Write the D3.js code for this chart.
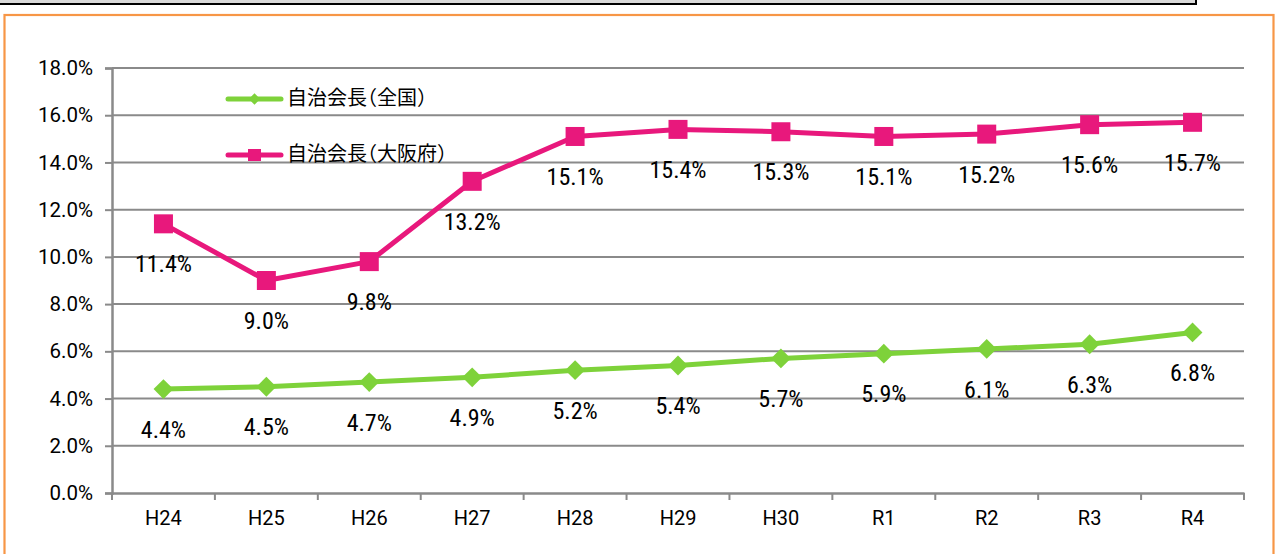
<!DOCTYPE html>
<html><head><meta charset="utf-8">
<script src="https://cdn.jsdelivr.net/npm/d3@7"></script>
<style>
html,body{margin:0;padding:0;background:#fff;overflow:hidden}
svg{display:block}
</style></head>
<body>
<svg id="c" width="1279" height="554"></svg>
<script>
const categories = ["H24","H25","H26","H27","H28","H29","H30","R1","R2","R3","R4"];
const nationalValues = [4.4,4.5,4.7,4.9,5.2,5.4,5.7,5.9,6.1,6.3,6.8];
const osakaValues = [11.4,9.0,9.8,13.2,15.1,15.4,15.3,15.1,15.2,15.6,15.7];
const yTicks = [0,2,4,6,8,10,12,14,16,18];
const seriesNames = ["自治会長（全国）","自治会長（大阪府）"];

(function(){
const svg = d3.select("#c");
const numFont = "Roboto,'Liberation Sans',Arial,sans-serif";
const labelFont = "'Liberation Sans Narrow','Roboto Condensed',Roboto,sans-serif";
const cjkFont = "'Noto Sans CJK JP','Noto Sans',sans-serif";

// top gray box
svg.append("rect").attr("x",-2).attr("y",-10).attr("width",1198).attr("height",14)
  .attr("fill","#d9d9d9").attr("stroke","#000").attr("stroke-width",2);
// orange frame
svg.append("rect").attr("x",4.5).attr("y",15).attr("width",1269).attr("height",600)
  .attr("fill","#fff").attr("stroke","#f79646").attr("stroke-width",2.2);

const pLeft=112, pRight=1244, pTop=68, pBottom=493;
const x = d3.scaleBand().domain(categories).range([pLeft,pRight]);
const y = d3.scaleLinear().domain([0,18]).range([pBottom,pTop]);
const cx = d => x(d) + x.bandwidth()/2;

// gridlines
svg.append("g").selectAll("line").data(yTicks.filter(t=>t>0)).join("line")
  .attr("x1",pLeft).attr("x2",pRight).attr("y1",d=>y(d)).attr("y2",d=>y(d))
  .attr("stroke","#8a8a8a").attr("stroke-width",2);

// y axis
const yAxis = svg.append("g").attr("transform",`translate(${pLeft},0)`)
  .call(d3.axisLeft(y).tickValues(yTicks).tickSize(7).tickPadding(12).tickFormat(d=>d.toFixed(1)+"%"));
yAxis.select(".domain").attr("stroke","#8a8a8a").attr("stroke-width",2.5);
yAxis.selectAll(".tick line").attr("stroke","#8a8a8a").attr("stroke-width",2);
yAxis.selectAll(".tick text").attr("font-family",numFont).attr("font-size",20.5).attr("fill","#000");

// x axis
const xAxis = svg.append("g").attr("transform",`translate(0,${pBottom})`)
  .call(d3.axisBottom(x).tickSize(0).tickPadding(18));
xAxis.select(".domain").attr("stroke","#8a8a8a").attr("stroke-width",2.5);
xAxis.selectAll(".tick text").attr("font-family",numFont).attr("font-size",20).attr("fill","#000");
// category boundary ticks
const bounds = categories.map(c=>x(c)).concat([pRight]);
svg.append("g").selectAll("line").data(bounds).join("line")
  .attr("x1",d=>d).attr("x2",d=>d).attr("y1",pBottom).attr("y2",pBottom+7)
  .attr("stroke","#8a8a8a").attr("stroke-width",2);

const green = "#7ed23a", pink = "#e8187c";
const line = d3.line().x((d,i)=>cx(categories[i])).y(d=>y(d));

// national
svg.append("path").datum(nationalValues).attr("d",line).attr("fill","none")
  .attr("stroke",green).attr("stroke-width",5).attr("stroke-linejoin","round");
svg.append("g").selectAll("rect").data(nationalValues).join("rect")
  .attr("x",-7).attr("y",-7).attr("width",14).attr("height",14)
  .attr("transform",(d,i)=>`translate(${cx(categories[i])},${y(d)}) rotate(45)`)
  .attr("fill",green);

// osaka
svg.append("path").datum(osakaValues).attr("d",line).attr("fill","none")
  .attr("stroke",pink).attr("stroke-width",5).attr("stroke-linejoin","round");
svg.append("g").selectAll("rect").data(osakaValues).join("rect")
  .attr("x",(d,i)=>cx(categories[i])-9.5).attr("y",d=>y(d)-9.5)
  .attr("width",19).attr("height",19).attr("fill",pink);

// labels
function labels(vals){
  svg.append("g").selectAll("text").data(vals).join("text")
    .attr("x",(d,i)=>cx(categories[i])).attr("y",d=>y(d)+40)
    .attr("dy","0.36em").attr("text-anchor","middle")
    .attr("font-family",labelFont).attr("font-size",24).attr("fill","#000")
    .text(d=>d.toFixed(1)+"%");
}
labels(nationalValues);
labels(osakaValues);

// legend
const leg = svg.append("g");
const legY = [99,155];
const legCol = [green,pink];
legY.forEach((ly,k)=>{
  leg.append("line").attr("x1",228).attr("x2",281).attr("y1",ly).attr("y2",ly)
    .attr("stroke",legCol[k]).attr("stroke-width",5).attr("stroke-linecap","round");
  if(k===0){
    leg.append("rect").attr("x",-4).attr("y",-4).attr("width",8).attr("height",8)
      .attr("transform",`translate(254.5,${ly}) rotate(45)`).attr("fill",green);
  } else {
    leg.append("rect").attr("x",248).attr("y",ly-6).attr("width",13).attr("height",12).attr("fill",pink);
  }
  leg.append("text").attr("x",287).attr("y",ly-1).attr("dy","0.36em")
    .attr("font-family",cjkFont).attr("font-size",20).attr("fill","#000")
    .style("font-feature-settings","'halt'")
    .text(seriesNames[k]);
});
})();
</script>
</body></html>
